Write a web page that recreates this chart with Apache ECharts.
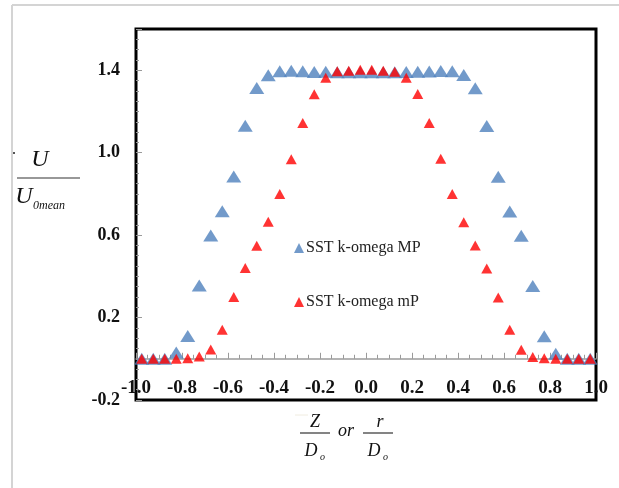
<!DOCTYPE html>
<html>
<head>
<meta charset="utf-8">
<script src="https://cdn.jsdelivr.net/npm/echarts@6/dist/echarts.min.js"></script>
<style>html,body{margin:0;padding:0;background:#fff;}#c{width:619px;height:488px;}</style>
</head>
<body>
<div id="c"></div>
<script>
// positions along Z/Do (or r/Do)
const xPositions = [-0.975,-0.925,-0.875,-0.825,-0.775,-0.725,-0.675,-0.625,-0.575,-0.525,
  -0.475,-0.425,-0.375,-0.325,-0.275,-0.225,-0.175,-0.125,-0.075,-0.025,
  0.025,0.075,0.125,0.175,0.225,0.275,0.325,0.375,0.425,0.475,
  0.525,0.575,0.625,0.675,0.725,0.775,0.825,0.875,0.925,0.975];
// SST k-omega MP (blue)
const mpValues = [0,0,0,0.03,0.11,0.355,0.598,0.716,0.884,1.130,
  1.314,1.376,1.395,1.397,1.395,1.391,1.393,1.390,1.390,1.390,
  1.390,1.390,1.390,1.391,1.392,1.394,1.396,1.395,1.377,1.313,
  1.129,0.883,0.714,0.597,0.353,0.109,0.025,0,0,0];
// SST k-omega mP (red)
const mPValues = [0,0,0,0,0.003,0.011,0.045,0.141,0.300,0.440,
  0.548,0.665,0.800,0.968,1.144,1.284,1.363,1.395,1.398,1.402,
  1.402,1.397,1.392,1.364,1.285,1.144,0.970,0.800,0.662,0.550,
  0.438,0.297,0.141,0.044,0.009,0.002,0,0,0,0];
const seriesNames = ['SST k-omega MP','SST k-omega mP'];
const xTicks = {min:-1.0, max:1.0, interval:0.2};
const yTicks = {min:-0.2, max:1.6, interval:0.4};

const pair = (xs, ys) => xs.map((x,i)=>[x, ys[i]]);
const serif = '"Liberation Serif","Times New Roman",serif';

const chart = echarts.init(document.getElementById('c'), null, {renderer:'canvas'});
chart.setOption({
  animation:false,
  backgroundColor:'#fff',
  grid:{left:136, top:29, right:23, bottom:88, show:true, borderColor:'#000', borderWidth:3, containLabel:false},
  legend:{
    orient:'vertical', left:289, top:235, itemGap:38, itemWidth:10, itemHeight:10,
    textStyle:{fontFamily:serif, fontSize:16, color:'#222', padding:[0,0,0,-3]},
    data:[{name:seriesNames[0], icon:'triangle'},{name:seriesNames[1], icon:'triangle'}]
  },
  xAxis:{
    type:'value', min:xTicks.min, max:xTicks.max, interval:xTicks.interval,
    axisLine:{onZero:true, lineStyle:{color:'#9a9a9a', width:1.5}},
    axisTick:{inside:true, length:6, lineStyle:{color:'#9a9a9a'}},
    minorTick:{show:true, splitNumber:4, length:4, lineStyle:{color:'#9a9a9a'}},
    splitLine:{show:false},
    axisLabel:{margin:-21, fontFamily:serif, fontWeight:'bold', fontSize:19, color:'#111',
      formatter:v=>v.toFixed(1)}
  },
  yAxis:{
    type:'value', min:yTicks.min, max:yTicks.max, interval:yTicks.interval,
    axisLine:{show:false, onZero:false},
    axisTick:{inside:true, length:6, lineStyle:{color:'#9a9a9a'}},
    minorTick:{show:true, splitNumber:8, length:3, lineStyle:{color:'#9a9a9a'}},
    splitLine:{show:false},
    axisLabel:{margin:16, fontFamily:serif, fontWeight:'bold', fontSize:18, color:'#111',
      formatter:v=>(Math.abs(v-1.6)<1e-6?'':v.toFixed(1))}
  },
  series:[
    {name:seriesNames[0], type:'scatter', symbol:'triangle', symbolSize:[15,12],
      itemStyle:{color:'#4F81BD'}, data:pair(xPositions, mpValues)},
    {name:seriesNames[1], type:'scatter', symbol:'triangle', symbolSize:[11,10],
      itemStyle:{color:'#FF0000'}, data:pair(xPositions, mPValues)}
  ],
  graphic:[
    {type:'line', shape:{x1:12,y1:5,x2:619,y2:5}, style:{stroke:'#d4d4d4', lineWidth:2}},
    {type:'line', shape:{x1:12,y1:5,x2:12,y2:488}, style:{stroke:'#d4d4d4', lineWidth:2}},
    {type:'rect', shape:{x:13,y:152,width:2,height:2}, style:{fill:'#555'}},
    // y title: U / U_0mean
    {type:'text', x:40, y:160, style:{text:'U', font:'italic 24px '+serif, fill:'#111', align:'center', verticalAlign:'middle'}},
    {type:'line', shape:{x1:17,y1:178,x2:80,y2:178}, style:{stroke:'#333', lineWidth:1.2}},
    {type:'text', x:24, y:197, style:{text:'U', font:'italic 24px '+serif, fill:'#111', align:'center', verticalAlign:'middle'}},
    {type:'text', x:33, y:206, style:{text:'0mean', font:'italic 12px '+serif, fill:'#111', align:'left', verticalAlign:'middle'}},
    // x title: Z/Do or r/Do
    {type:'line', shape:{x1:295,y1:415,x2:308,y2:415}, style:{stroke:'#f0ece0', lineWidth:1}},
    {type:'text', x:315, y:422, style:{text:'Z', font:'italic 18px '+serif, fill:'#111', align:'center', verticalAlign:'middle'}},
    {type:'line', shape:{x1:300,y1:433,x2:330,y2:433}, style:{stroke:'#333', lineWidth:1.2}},
    {type:'text', x:311, y:451, style:{text:'D', font:'italic 18px '+serif, fill:'#111', align:'center', verticalAlign:'middle'}},
    {type:'text', x:320, y:457, style:{text:'o', font:'italic 10px '+serif, fill:'#111', align:'left', verticalAlign:'middle'}},
    {type:'text', x:346, y:431, style:{text:'or', font:'italic 18px '+serif, fill:'#111', align:'center', verticalAlign:'middle'}},
    {type:'text', x:380, y:422, style:{text:'r', font:'italic 18px '+serif, fill:'#111', align:'center', verticalAlign:'middle'}},
    {type:'line', shape:{x1:363,y1:433,x2:393,y2:433}, style:{stroke:'#333', lineWidth:1.2}},
    {type:'text', x:374, y:451, style:{text:'D', font:'italic 18px '+serif, fill:'#111', align:'center', verticalAlign:'middle'}},
    {type:'text', x:383, y:457, style:{text:'o', font:'italic 10px '+serif, fill:'#111', align:'left', verticalAlign:'middle'}}
  ]
});
</script>
</body>
</html>
